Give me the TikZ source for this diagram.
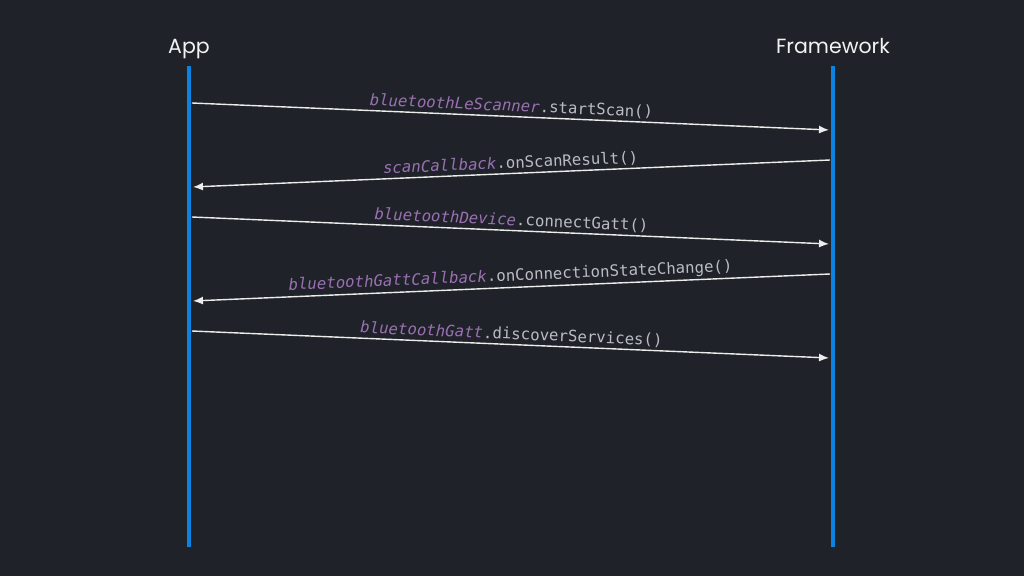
\documentclass[tikz,border=0pt]{standalone}
\usepackage{fontspec}
\setmainfont{Poppins}
\newfontfamily\codefont{DejaVu Sans Mono}
\usetikzlibrary{arrows.meta}
\definecolor{bg}{HTML}{1F2329}
\definecolor{lifeblue}{HTML}{0A84E0}
\definecolor{objpurple}{HTML}{9A70B2}
\definecolor{methgray}{HTML}{B9BDC3}
\definecolor{msgline}{HTML}{ECECEC}
\definecolor{titlewhite}{HTML}{F2F2F2}
\tikzset{
  lifeline/.style={draw=lifeblue, line width=4.5pt},
  title/.style={text=titlewhite, font=\fontsize{20.5}{21}\selectfont, anchor=base},
  msg/.style={draw=msgline, line width=1.4pt, -{Latex[length=10pt,width=8pt]}, shorten >=1pt},
  lbl/.style={midway, sloped, above, inner sep=2.5pt, font=\codefont\fontsize{15.7}{16}\selectfont},
}
\newcommand{\obj}[1]{\textcolor{objpurple}{\itshape #1}}
\newcommand{\meth}[1]{\textcolor{methgray}{#1}}
\begin{document}
\begin{tikzpicture}[x=1pt,y=-1pt]
\fill[bg] (0,0) rectangle (1024,576);
\useasboundingbox (0,0) rectangle (1024,576);
\node[title] (app) at (189,53) {App};
\node[title] (fw) at (833,53) {Framework};
\coordinate (atop) at (189,66);
\coordinate (abot) at (189,547);
\coordinate (ftop) at (833,66);
\coordinate (fbot) at (833,547);
\draw[lifeline] (atop) -- (abot);
\draw[lifeline] (ftop) -- (fbot);
\coordinate (a1) at (192,103); \coordinate (f1) at (830,130);
\coordinate (f2) at (830,160); \coordinate (a2) at (192,187);
\coordinate (a3) at (192,217); \coordinate (f3) at (830,244);
\coordinate (f4) at (830,274); \coordinate (a4) at (192,301);
\coordinate (a5) at (192,331); \coordinate (f5) at (830,358);
\draw[msg] (a1) -- node[lbl] (l1) {\obj{bluetoothLeScanner}\meth{.startScan()}} (f1);
\draw[msg] (f2) -- node[lbl] (l2) {\obj{scanCallback}\meth{.onScanResult()}} (a2);
\draw[msg] (a3) -- node[lbl] (l3) {\obj{bluetoothDevice}\meth{.connectGatt()}} (f3);
\draw[msg] (f4) -- node[lbl] (l4) {\obj{bluetoothGattCallback}\meth{.onConnectionStateChange()}} (a4);
\draw[msg] (a5) -- node[lbl] (l5) {\obj{bluetoothGatt}\meth{.discoverServices()}} (f5);
\end{tikzpicture}
\end{document}
